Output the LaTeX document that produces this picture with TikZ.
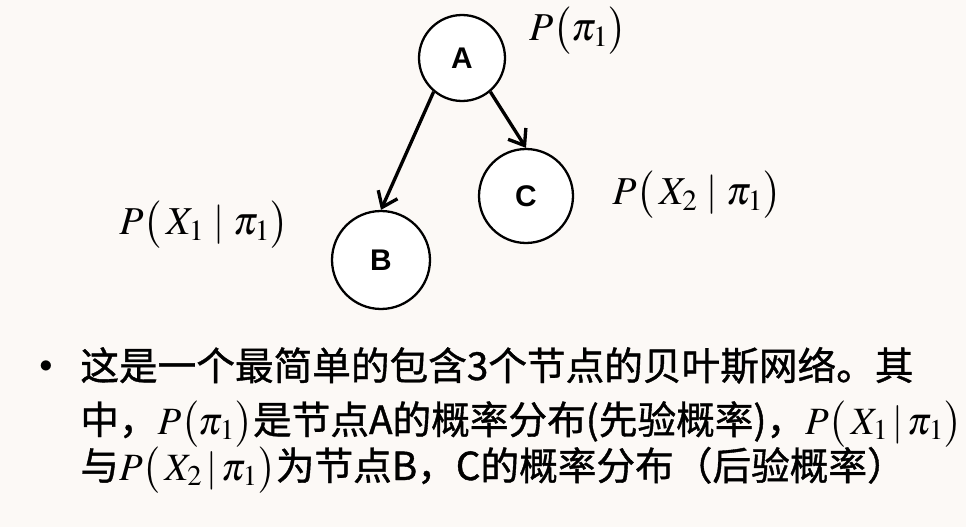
\documentclass[tikz,border=0pt]{standalone}
\usepackage{amsmath}
\usepackage{mathptmx}
\usepackage{fontspec}
\newfontfamily\cjk[FakeBold=1]{Noto Sans CJK SC}
\newfontfamily\arial{Liberation Sans}
\usepackage{tikz}
\usetikzlibrary{arrows.meta}
\definecolor{bgcol}{RGB}{252,249,246}

\begin{document}
\begin{tikzpicture}[x=0.02cm, y=-0.02cm,
    bnode/.style={circle, draw, line width=1.3pt, fill=white, inner sep=0pt,
      font=\arial\bfseries\fontsize{17}{19}\selectfont},
    edge/.style={line width=1.9pt, -{Straight Barb[length=8pt,width=12pt,line width=1.9pt]}},
    prob/.style={font=\fontsize{22.5}{26}\selectfont, inner sep=0pt},
    line/.style={anchor=base west, inner sep=0pt, font=\fontsize{22}{26}\selectfont}]
        \fill [bgcol] (0,0) rectangle (966,527);
        \useasboundingbox (0,0) rectangle (966,527);
        \node [bnode, minimum size=1.72cm] (A) at (462,58) {A};
        \node [bnode, minimum size=1.88cm] (C) at (526,196) {C};
        \node [bnode, minimum size=1.96cm] (B) at (381,260) {B};
        \draw [edge] (A.230) to (B.north);
        \draw [edge] (A.310) to (C.north);
        \node [prob] (pa) at (578,31) {$P\bigl(\pi_1\bigr)$};
        \node [prob] (pb) at (204,225) {$P\bigl(\,X_1\;|\;\pi_1\bigr)$};
        \node [prob] (pc) at (697,195) {$P\bigl(\,X_2\;|\;\pi_1\bigr)$};
        \node [font=\fontsize{15}{18}\selectfont, inner sep=0pt] (dot) at (46,367) {$\bullet$};
        \node [line] (l1) at (80,380) {\cjk 这是一个最简单的包含3个节点的贝叶斯网络。其};
        \node [line] (l2) at (80,434) {{\cjk 中，}$P\bigl(\pi_1\bigr)${\cjk 是节点A的概率分布(先验概率)，}$P\bigl(\,X_1\,|\,\pi_1\bigr)$};
        \node [line] (l3) at (80,480) {{\cjk 与}$P\bigl(\,X_2\,|\,\pi_1\bigr)${\cjk 为节点B，C的概率分布（后验概率）}};
      \end{tikzpicture}
\end{document}
